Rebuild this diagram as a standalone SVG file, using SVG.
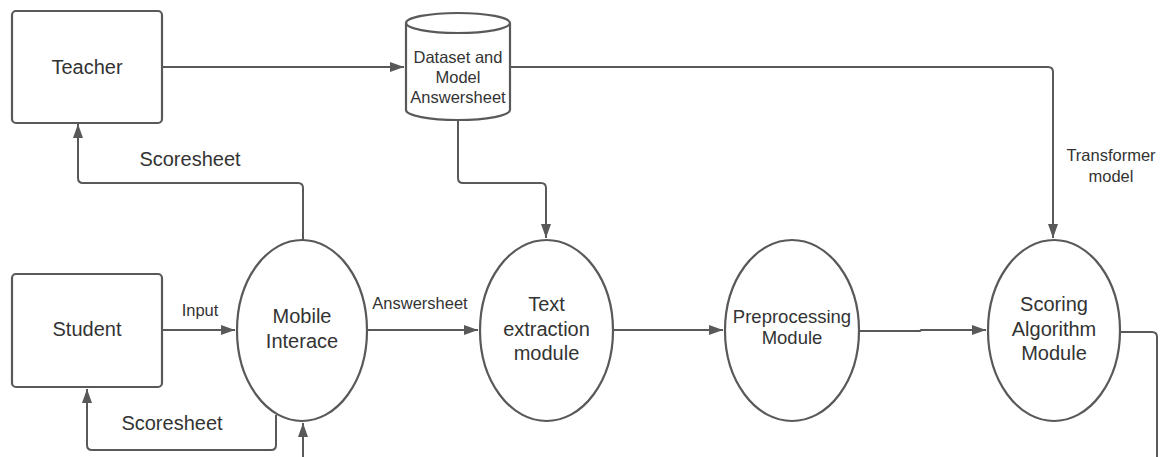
<svg xmlns="http://www.w3.org/2000/svg" width="1162" height="457" viewBox="0 0 1162 457">
<style>
.box{fill:#fff;stroke:#595959;stroke-width:2.2}
.conn{fill:none;stroke:#595959;stroke-width:2}
.t{font-family:"Liberation Sans",Arial,sans-serif;fill:#333;text-anchor:middle}
.big{font-size:20px}
.small{font-size:16.5px}
</style>
<defs>
<marker id="ah" markerUnits="userSpaceOnUse" markerWidth="15" markerHeight="11" refX="14" refY="5" orient="auto">
<path d="M0,0 L14,5 L0,10 z" fill="#595959"/>
</marker>
</defs>
<rect width="1162" height="457" fill="#fff"/>
<g id="connectors">
<path class="conn" d="M162,67 H404" marker-end="url(#ah)"/>
<path class="conn" d="M510,67 H1048 Q1053,67 1053,72 V238" marker-end="url(#ah)"/>
<path class="conn" d="M458,120 V178 Q458,183 463,183 H541 Q546,183 546,188 V238" marker-end="url(#ah)"/>
<path class="conn" d="M303,241 V188 Q303,183 298,183 H83 Q78,183 78,178 V124" marker-end="url(#ah)"/>
<path class="conn" d="M162,330 H235" marker-end="url(#ah)"/>
<path class="conn" d="M367,330 H478" marker-end="url(#ah)"/>
<path class="conn" d="M613,330 H723" marker-end="url(#ah)"/>
<path class="conn" d="M859,331 H920 L921,330 H986" marker-end="url(#ah)"/>
<path class="conn" d="M1120,332 H1152 Q1157,332 1157,337 V457"/>
<path class="conn" d="M276,415 V445 Q276,450 271,450 H92 Q87,450 87,445 V389" marker-end="url(#ah)"/>
<path class="conn" d="M303,457 V423" marker-end="url(#ah)"/>
<text class="t big" x="190" y="166">Scoresheet</text>
<text class="t big" x="172" y="430">Scoresheet</text>
<text class="t small" x="200" y="316">Input</text>
<text class="t small" x="420" y="309">Answersheet</text>
<text class="t small" x="1111" y="161">Transformer</text>
<text class="t small" x="1111" y="182">model</text>
</g>
<g id="teacher">
<rect class="box" x="12" y="11" width="150" height="112" rx="4"/>
<text class="t big" x="87" y="74">Teacher</text>
</g>
<g id="dataset">
<path class="box" d="M406,23 A52,10 0 0 1 510,23 V110 A52,10 0 0 1 406,110 Z"/>
<path class="conn" d="M406,23 A52,10 0 0 0 510,23" style="stroke-width:2.2"/>
<text class="t small" x="458" y="63">Dataset and</text>
<text class="t small" x="458" y="83">Model</text>
<text class="t small" x="458" y="103">Answersheet</text>
</g>
<g id="student">
<rect class="box" x="12" y="274" width="150" height="113" rx="4"/>
<text class="t big" x="87" y="336">Student</text>
</g>
<g id="mobile">
<ellipse class="box" cx="302" cy="330.5" rx="65" ry="90.5"/>
<text class="t big" x="302" y="323">Mobile</text>
<text class="t big" x="302" y="348">Interace</text>
</g>
<g id="textextraction">
<ellipse class="box" cx="546.5" cy="330.5" rx="66.5" ry="90.5"/>
<text class="t big" x="546.5" y="311">Text</text>
<text class="t big" x="546.5" y="336">extraction</text>
<text class="t big" x="546.5" y="360">module</text>
</g>
<g id="preprocessing">
<ellipse class="box" cx="792" cy="330.5" rx="67" ry="90.5"/>
<text class="t" style="font-size:18.5px" x="792" y="323">Preprocessing</text>
<text class="t" style="font-size:18.5px" x="792" y="344">Module</text>
</g>
<g id="scoring">
<ellipse class="box" cx="1054" cy="330.5" rx="66" ry="90.5"/>
<text class="t big" x="1054" y="311">Scoring</text>
<text class="t big" x="1054" y="336">Algorithm</text>
<text class="t big" x="1054" y="360">Module</text>
</g>
</svg>
